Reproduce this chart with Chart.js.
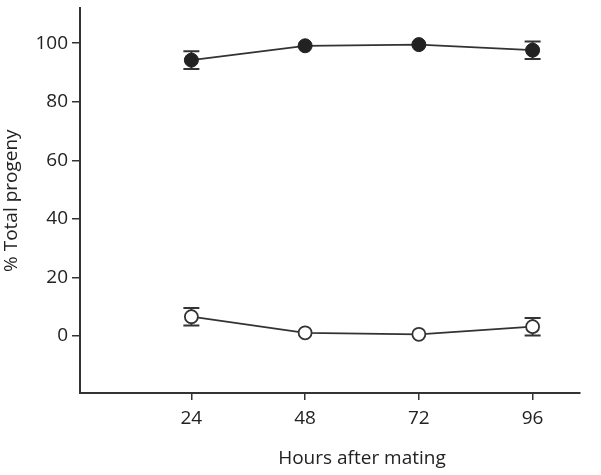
<!DOCTYPE html>
<html>
<head>
<meta charset="utf-8">
<script src="https://cdn.jsdelivr.net/npm/chart.js@4"></script>
<style>
  html, body { margin: 0; padding: 0; background: #fff; }
  #wrap { width: 601px; height: 475px; position: relative; }
</style>
</head>
<body>
<div id="wrap"><canvas id="chart"></canvas></div>
<script>
const hours = [24, 48, 72, 96];
const filledValues = [94.2, 99.1, 99.5, 97.6];
const filledErr = [3, 0, 0, 3];
const openValues = [6.6, 1.1, 0.6, 3.2];
const openErr = [3, 0, 0, 3];
const yTicks = [0, 20, 40, 60, 80, 100];

const INK = '#333333';
const FONT = "'Open Sans', 'Noto Sans', sans-serif";

function toPoints(values) {
  return hours.map((h, i) => ({ x: h, y: values[i] }));
}

// error bars drawn under the markers
const errorBars = {
  id: 'errorBars',
  beforeDatasetsDraw(chart) {
    const { ctx, scales } = chart;
    const sets = [[filledValues, filledErr], [openValues, openErr]];
    ctx.save();
    ctx.strokeStyle = INK;
    ctx.lineWidth = 2;
    sets.forEach(([vals, errs]) => {
      vals.forEach((v, i) => {
        if (!errs[i]) return;
        const x = scales.x.getPixelForValue(hours[i]);
        const top = scales.y.getPixelForValue(v + errs[i]);
        const bot = scales.y.getPixelForValue(v - errs[i]);
        ctx.beginPath();
        ctx.moveTo(x, top); ctx.lineTo(x, bot);
        ctx.moveTo(x - 8, top); ctx.lineTo(x + 8, top);
        ctx.moveTo(x - 8, bot); ctx.lineTo(x + 8, bot);
        ctx.stroke();
      });
    });
    ctx.restore();
  },
};

// x title centred on the tick span, like the original figure
const xTitle = {
  id: 'xTitle',
  afterDraw(chart) {
    const { ctx, scales } = chart;
    const cx = (scales.x.getPixelForValue(hours[0]) + scales.x.getPixelForValue(hours[hours.length - 1])) / 2;
    ctx.save();
    ctx.fillStyle = '#222';
    ctx.font = `19px ${FONT}`;
    ctx.textAlign = 'center';
    ctx.textBaseline = 'middle';
    ctx.fillText('Hours after mating', cx, 459);
    ctx.restore();
  },
};

new Chart(document.getElementById('chart'), {
  type: 'line',
  data: {
    datasets: [
      {
        label: 'filled',
        data: toPoints(filledValues),
        borderColor: INK,
        borderWidth: 1.8,
        pointRadius: 7,
        pointBackgroundColor: '#222',
        pointBorderColor: '#222',
        pointBorderWidth: 1,
        tension: 0,
      },
      {
        label: 'open',
        data: toPoints(openValues),
        borderColor: INK,
        borderWidth: 1.8,
        pointRadius: 6.5,
        pointBackgroundColor: '#fff',
        pointBorderColor: INK,
        pointBorderWidth: 1.8,
        tension: 0,
      },
    ],
  },
  options: {
    responsive: true,
    maintainAspectRatio: false,
    animation: false,
    layout: { padding: { top: 0, right: 21, left: 0, bottom: 0 } },
    plugins: { legend: { display: false }, tooltip: { enabled: false } },
    scales: {
      x: {
        type: 'linear',
        min: 0.5,
        max: 106,
        afterBuildTicks: (s) => { s.ticks = hours.map((v) => ({ value: v })); },
        afterFit: (s) => { s.height = 82; s.paddingLeft = 0; s.paddingRight = 0; },
        border: { display: true, color: INK, width: 2 },
        grid: { drawOnChartArea: false, tickLength: 7, color: INK, lineWidth: 1.5 },
        ticks: { color: '#222', font: { family: FONT, size: 19 }, padding: 7, maxRotation: 0 },
      },
      y: {
        min: -19.45,
        max: 111.9,
        afterBuildTicks: (s) => { s.ticks = yTicks.map((v) => ({ value: v })); },
        afterFit: (s) => { s.width = 80; s.paddingTop = 0; s.paddingBottom = 0; },
        border: { display: true, color: INK, width: 2 },
        grid: { drawOnChartArea: false, tickLength: 8, color: INK, lineWidth: 1.5 },
        ticks: { color: '#222', font: { family: FONT, size: 19 }, padding: 4 },
        title: {
          display: true,
          text: '% Total progeny',
          color: '#222',
          font: { family: FONT, size: 19 },
          padding: { top: 0, bottom: 0 },
        },
      },
    },
  },
  plugins: [errorBars, xTitle],
});
</script>
</body>
</html>
